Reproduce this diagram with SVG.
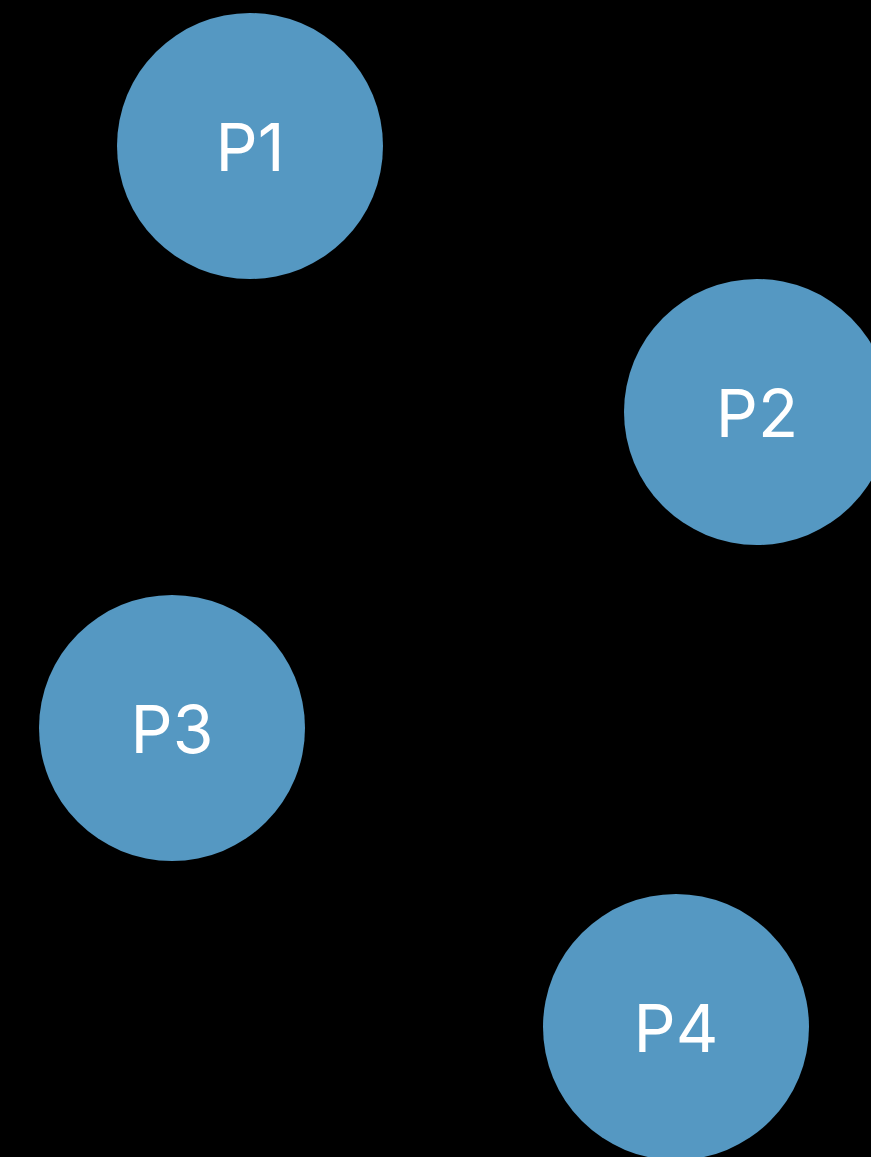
<svg xmlns="http://www.w3.org/2000/svg" width="871" height="1157" viewBox="0 0 871 1157">
<style>
.n{fill:#5598c2}
.t{fill:#ffffff;font-family:Inter,"Liberation Sans",sans-serif;font-size:66px;text-anchor:middle}
</style>
<rect width="871" height="1157" fill="#000000"/>
<g id="connectors"></g>
<g id="P1"><circle class="n" cx="250" cy="146" r="133"/><text class="t" x="250" y="171">P1</text></g>
<g id="P2"><circle class="n" cx="757" cy="412" r="133"/><text class="t" x="757" y="437">P2</text></g>
<g id="P3"><circle class="n" cx="172" cy="728" r="133"/><text class="t" x="172" y="753">P3</text></g>
<g id="P4"><circle class="n" cx="676" cy="1027" r="133"/><text class="t" x="676" y="1052">P4</text></g>
</svg>
